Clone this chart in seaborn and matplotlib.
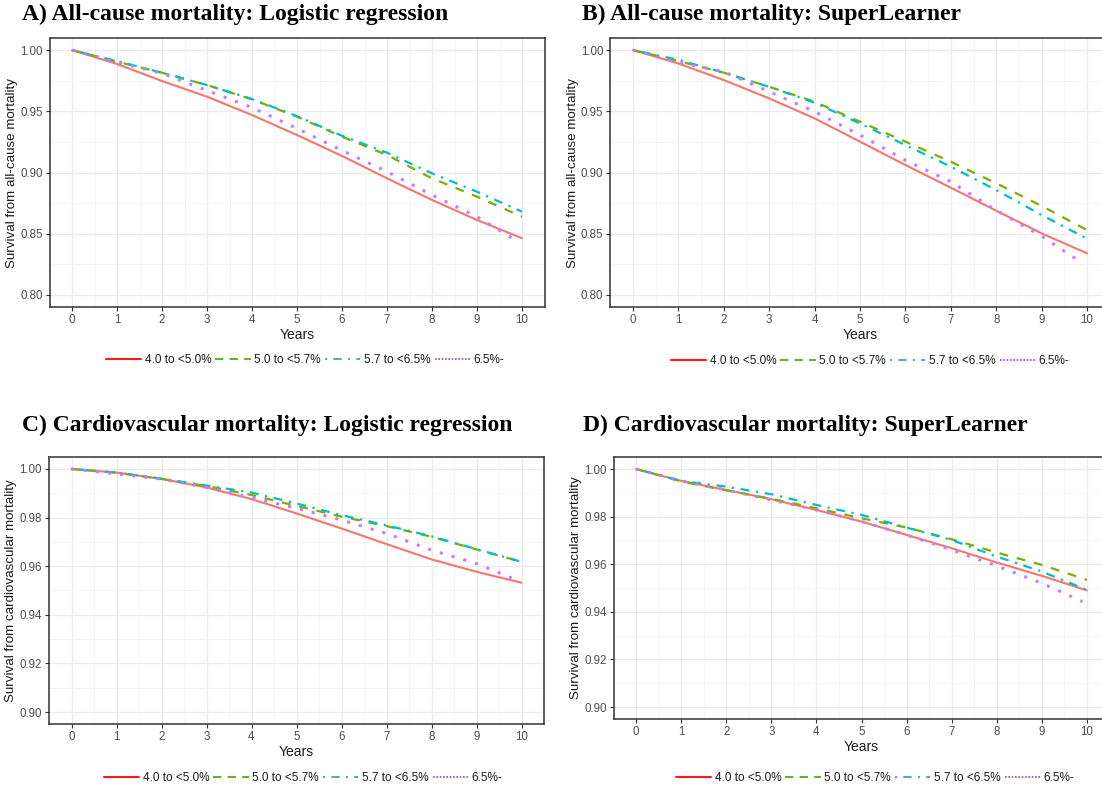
import matplotlib
matplotlib.use("Agg")
import matplotlib.pyplot as plt
import numpy as np
import pandas as pd
import seaborn as sns
from matplotlib.lines import Line2D
from matplotlib.ticker import MultipleLocator

# ---- data: survival estimates by HbA1c group, read at whole years ----
YEARS = [0, 1, 2, 3, 4, 5, 6, 7, 8, 9, 10]
GROUPS = ["4.0 to <5.0%", "5.0 to <5.7%", "5.7 to <6.5%", "6.5%-"]
# the highest group has slightly shorter follow-up in every panel
LAST_YEAR_HIGH = {"A": 9.8, "B": 9.9, "C": 9.8, "D": 9.9}

# A) all-cause mortality, logistic regression
A_40_50 = [1.0, 0.9886, 0.9747, 0.9619, 0.9469, 0.9306, 0.9135, 0.8952, 0.8776, 0.8612, 0.8463]
A_50_57 = [1.0, 0.9905, 0.9815, 0.9714, 0.9597, 0.9456, 0.9293, 0.9143, 0.8952, 0.8803, 0.8639]
A_57_65 = [1.0, 0.9910, 0.9815, 0.9714, 0.9600, 0.9460, 0.9300, 0.9162, 0.8993, 0.8843, 0.8680]
A_65_UP = [1.0, 0.9900, 0.9810, 0.9670, 0.9530, 0.9360, 0.9180, 0.9007, 0.8816, 0.8639, 0.8460]

# B) all-cause mortality, SuperLearner
B_40_50 = [1.0, 0.9890, 0.9755, 0.9605, 0.9442, 0.9252, 0.9061, 0.8876, 0.8688, 0.8503, 0.8340]
B_50_57 = [1.0, 0.9910, 0.9815, 0.9700, 0.9578, 0.9415, 0.9252, 0.9088, 0.8912, 0.8727, 0.8530]
B_57_65 = [1.0, 0.9920, 0.9815, 0.9700, 0.9570, 0.9400, 0.9224, 0.9048, 0.8857, 0.8653, 0.8460]
B_65_UP = [1.0, 0.9900, 0.9823, 0.9660, 0.9497, 0.9306, 0.9100, 0.8925, 0.8690, 0.8480, 0.8260]

# C) cardiovascular mortality, logistic regression
C_40_50 = [1.0, 0.9985, 0.9959, 0.9924, 0.9876, 0.9817, 0.9755, 0.9691, 0.9628, 0.9577, 0.9532]
C_50_57 = [1.0, 0.9985, 0.9959, 0.9930, 0.9893, 0.9848, 0.9804, 0.9765, 0.9721, 0.9669, 0.9618]
C_57_65 = [1.0, 0.9985, 0.9960, 0.9932, 0.9903, 0.9858, 0.9810, 0.9768, 0.9723, 0.9670, 0.9618]
C_65_UP = [1.0, 0.9980, 0.9958, 0.9924, 0.9882, 0.9838, 0.9790, 0.9735, 0.9666, 0.9611, 0.9550]

# D) cardiovascular mortality, SuperLearner
D_40_50 = [1.0, 0.9950, 0.9912, 0.9873, 0.9828, 0.9779, 0.9723, 0.9667, 0.9607, 0.9551, 0.9490]
D_50_57 = [1.0, 0.9948, 0.9910, 0.9875, 0.9835, 0.9793, 0.9754, 0.9705, 0.9649, 0.9597, 0.9534]
D_57_65 = [1.0, 0.9950, 0.9926, 0.9894, 0.9849, 0.9807, 0.9754, 0.9702, 0.9632, 0.9569, 0.9492]
D_65_UP = [1.0, 0.9950, 0.9912, 0.9870, 0.9828, 0.9780, 0.9723, 0.9660, 0.9593, 0.9520, 0.9443]

PANELS = {
    "A": ("A) All-cause mortality: Logistic regression", "Survival from all-cause mortality",
          [A_40_50, A_50_57, A_57_65, A_65_UP], [0.80, 0.85, 0.90, 0.95, 1.00]),
    "B": ("B) All-cause mortality: SuperLearner", "Survival from all-cause mortality",
          [B_40_50, B_50_57, B_57_65, B_65_UP], [0.80, 0.85, 0.90, 0.95, 1.00]),
    "C": ("C) Cardiovascular mortality: Logistic regression", "Survival from cardiovascular mortality",
          [C_40_50, C_50_57, C_57_65, C_65_UP], [0.90, 0.92, 0.94, 0.96, 0.98, 1.00]),
    "D": ("D) Cardiovascular mortality: SuperLearner", "Survival from cardiovascular mortality",
          [D_40_50, D_50_57, D_57_65, D_65_UP], [0.90, 0.92, 0.94, 0.96, 0.98, 1.00]),
}

# ---- styling ----
LINE_COLORS = dict(zip(GROUPS, ["#F8766D", "#7CAE00", "#00BFC4", "#C77CFF"]))
KEY_COLORS = ["#FF1A1A", "#6BAE2E", "#5C9FE6", "#8E44E8"]
DASHES = dict(zip(GROUPS, ["", (4, 4), (1, 3, 4, 3), (1, 3)]))
KEY_DASHES = ["", (4, 3), (1, 3, 4, 3), (1, 1)]
WIDTHS = dict(zip(GROUPS, [1.5, 1.6, 1.6, 2.2]))

sns.set_theme(style="whitegrid")
plt.rcParams["font.family"] = ["Liberation Sans", "DejaVu Sans"]

fig = plt.figure(figsize=(11.02, 7.90), dpi=100)
W, H = 1102, 790


def px_axes(left, top, right, bottom):
    return fig.add_axes([left / W, 1 - bottom / H, (right - left) / W, (bottom - top) / H])


# axes boxes in pixels: left, top, right, bottom
BOXES = {
    "A": (49.5, 37.8, 544.5, 307.2),
    "B": (610.3, 37.8, 1109.7, 307.2),
    "C": (49.0, 456.8, 544.0, 724.2),
    "D": (613.5, 457.1, 1109.5, 718.9),
}
TITLE_POS = {"A": (22, 14), "B": (582, 14), "C": (22, 425), "D": (583, 425)}
LEGEND_POS = {"A": (305, 360), "B": (870, 361), "C": (303, 778), "D": (875, 778)}

for key, (title, ylabel, series, yticks) in PANELS.items():
    ax = px_axes(*BOXES[key])
    rows = []
    for g, vals in zip(GROUPS, series):
        yrs = list(YEARS)
        if g == "6.5%-":
            yrs[-1] = LAST_YEAR_HIGH[key]
        for t, v in zip(yrs, vals):
            rows.append({"Years": t, "Survival": v, "Group": g})
    df = pd.DataFrame(rows)
    for g in GROUPS:
        sns.lineplot(data=df[df["Group"] == g], x="Years", y="Survival",
                     color=LINE_COLORS[g], dashes=False, estimator=None,
                     sort=False, linewidth=WIDTHS[g], legend=False, ax=ax)
        if DASHES[g]:
            ax.lines[-1].set_dashes(DASHES[g])

    lo, hi = yticks[0], yticks[-1]
    pad = (hi - lo) * 0.05
    ax.set_ylim(lo - pad, hi + pad)
    ax.set_xlim(-0.5, 10.5)
    ax.set_xticks(YEARS)
    ax.set_yticks(yticks)
    ax.set_yticklabels([f"{v:.2f}" for v in yticks])
    ax.xaxis.set_minor_locator(MultipleLocator(0.5))
    ax.yaxis.set_minor_locator(MultipleLocator((yticks[1] - yticks[0]) / 2))
    ax.set_facecolor("white")
    ax.grid(True, which="major", color="#EBEBEB", linewidth=0.9)
    ax.grid(True, which="minor", color="#F4F4F4", linewidth=0.6)
    ax.set_axisbelow(True)
    for s in ax.spines.values():
        s.set_color("#333333")
        s.set_linewidth(1.1)
        s.set_visible(True)
    ax.tick_params(which="major", length=3, width=0.8, color="#333333",
                   labelsize=8.3, labelcolor="#4D4D4D", pad=2,
                   bottom=True, left=True)
    ax.tick_params(which="minor", length=0)
    ax.set_xlabel("Years", fontsize=10, color="#1A1A1A", labelpad=1.5)
    ax.set_ylabel(ylabel, fontsize=9.6, color="#1A1A1A", labelpad=1.5)

    tx, ty = TITLE_POS[key]
    fig.text(tx / W, 1 - ty / H, title, fontsize=17, fontweight="bold",
             family=["Liberation Serif", "DejaVu Serif"], ha="left", va="center",
             color="black")

    handles = [Line2D([], [], color=c, linewidth=1.5 if d != (1, 1) else 1.2,
                      linestyle="-" if d == "" else (0, d))
               for c, d in zip(KEY_COLORS, KEY_DASHES)]
    lx, ly = LEGEND_POS[key]
    fig.legend(handles, GROUPS, loc="center", bbox_to_anchor=(lx / W, 1 - ly / H),
               ncol=4, frameon=False, fontsize=8.5, handlelength=3.0,
               handletextpad=0.3, columnspacing=0.35, labelcolor="#1A1A1A")

fig.savefig("out.png", dpi=100, facecolor="white")
